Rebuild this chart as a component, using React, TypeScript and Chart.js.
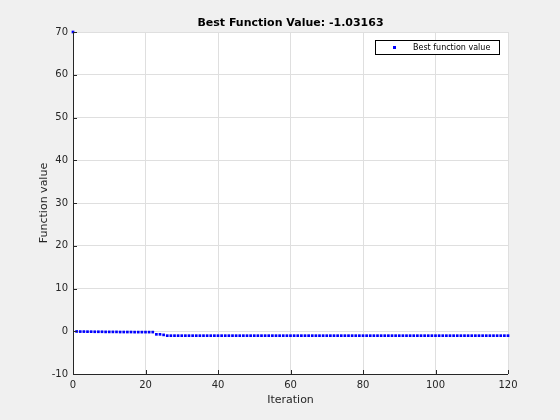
import React, { useEffect, useRef } from "react";
import { Chart, registerables } from "chart.js";

Chart.register(...registerables);

const titleText = "Best Function Value: -1.03163";
const xLabel = "Iteration";
const yLabel = "Function value";
const legendLabel = "Best function value";

const xTicks = [0, 20, 40, 60, 80, 100, 120];
const yTicks = [-10, 0, 10, 20, 30, 40, 50, 60, 70];

const iterations = [
  0, 1, 2, 3, 4, 5, 6, 7, 8, 9,
  10, 11, 12, 13, 14, 15, 16, 17, 18, 19,
  20, 21, 22, 23, 24, 25, 26, 27, 28, 29,
  30, 31, 32, 33, 34, 35, 36, 37, 38, 39,
  40, 41, 42, 43, 44, 45, 46, 47, 48, 49,
  50, 51, 52, 53, 54, 55, 56, 57, 58, 59,
  60, 61, 62, 63, 64, 65, 66, 67, 68, 69,
  70, 71, 72, 73, 74, 75, 76, 77, 78, 79,
  80, 81, 82, 83, 84, 85, 86, 87, 88, 89,
  90, 91, 92, 93, 94, 95, 96, 97, 98, 99,
  100, 101, 102, 103, 104, 105, 106, 107, 108, 109,
  110, 111, 112, 113, 114, 115, 116, 117, 118, 119,
  120,
];

const bestValues = [
  70, -0.05, -0.08, -0.08, -0.1, -0.1, -0.12, -0.12, -0.12, -0.15,
  -0.15, -0.15, -0.15, -0.18, -0.18, -0.18, -0.18, -0.2, -0.2, -0.2,
  -0.2, -0.2, -0.2, -0.72, -0.72, -0.85, -1.0316, -1.0316, -1.0316, -1.0316,
  -1.0316, -1.0316, -1.0316, -1.0316, -1.0316, -1.0316, -1.0316, -1.0316, -1.0316, -1.0316,
  -1.0316, -1.0316, -1.0316, -1.0316, -1.0316, -1.0316, -1.0316, -1.0316, -1.0316, -1.0316,
  -1.0316, -1.0316, -1.0316, -1.0316, -1.0316, -1.0316, -1.0316, -1.0316, -1.0316, -1.0316,
  -1.0316, -1.0316, -1.0316, -1.0316, -1.0316, -1.0316, -1.0316, -1.0316, -1.0316, -1.0316,
  -1.0316, -1.0316, -1.0316, -1.0316, -1.0316, -1.0316, -1.0316, -1.0316, -1.0316, -1.0316,
  -1.0316, -1.0316, -1.0316, -1.0316, -1.0316, -1.0316, -1.0316, -1.0316, -1.0316, -1.0316,
  -1.0316, -1.0316, -1.0316, -1.0316, -1.0316, -1.0316, -1.0316, -1.0316, -1.0316, -1.0316,
  -1.0316, -1.0316, -1.0316, -1.0316, -1.0316, -1.0316, -1.0316, -1.0316, -1.0316, -1.0316,
  -1.0316, -1.0316, -1.0316, -1.0316, -1.0316, -1.0316, -1.0316, -1.0316, -1.0316, -1.0316,
  -1.03163,
];

const FONT = "'DejaVu Sans', sans-serif";
const AXIS_COLOR = "#262626";

const matlabPlugin = {
  id: "matlabDecor",
  afterDraw(chart: any) {
    const { ctx, chartArea } = chart;
    const { left, right, top, bottom } = chartArea;
    const xs = chart.scales.x;
    const ys = chart.scales.y;
    ctx.save();
    ctx.strokeStyle = AXIS_COLOR;
    ctx.lineWidth = 1;
    ctx.beginPath();
    ctx.moveTo(left + 0.5, top);
    ctx.lineTo(left + 0.5, bottom + 0.5);
    ctx.lineTo(right, bottom + 0.5);
    ctx.stroke();
    ctx.beginPath();
    xTicks.forEach((t) => {
      const px = Math.round(xs.getPixelForValue(t)) + 0.5;
      ctx.moveTo(px, bottom);
      ctx.lineTo(px, bottom - 4);
    });
    yTicks.forEach((t) => {
      const py = Math.round(ys.getPixelForValue(t)) + 0.5;
      ctx.moveTo(left, py);
      ctx.lineTo(left + 4, py);
    });
    ctx.stroke();
    ctx.fillStyle = "#000000";
    ctx.font = `bold 11px ${FONT}`;
    ctx.textAlign = "center";
    ctx.textBaseline = "alphabetic";
    ctx.fillText(titleText, (left + right) / 2, 26);
    ctx.fillStyle = AXIS_COLOR;
    ctx.font = `11px ${FONT}`;
    ctx.fillText(xLabel, (left + right) / 2, 403);
    ctx.save();
    ctx.translate(47, (top + bottom) / 2);
    ctx.rotate(-Math.PI / 2);
    ctx.fillText(yLabel, 0, 0);
    ctx.restore();
    const lx = 375.5, ly = 40.5, lw = 124, lh = 14;
    ctx.fillStyle = "#ffffff";
    ctx.fillRect(lx, ly, lw, lh);
    ctx.strokeStyle = "#000000";
    ctx.strokeRect(lx, ly, lw, lh);
    ctx.fillStyle = "#0000ff";
    ctx.fillRect(393, 46, 3, 3);
    ctx.fillStyle = "#000000";
    ctx.font = `8px ${FONT}`;
    ctx.textAlign = "left";
    ctx.textBaseline = "middle";
    ctx.fillText(legendLabel, 413, 47.5);
    ctx.restore();
  },
};

export default function App() {
  const canvasRef = useRef<HTMLCanvasElement>(null);

  useEffect(() => {
    document.body.style.margin = "0";
    const canvas = canvasRef.current;
    if (!canvas) return;
    const chart = new Chart(canvas, {
      type: "scatter",
      data: {
        datasets: [
          {
            label: legendLabel,
            data: iterations.map((it, i) => ({ x: it, y: bestValues[i] })),
            backgroundColor: "#0000ff",
            borderColor: "#0000ff",
            pointStyle: "rect",
            pointRadius: 1.9,
            pointBorderWidth: 0,
            pointHoverRadius: 1.9,
            showLine: false,
            clip: false,
          } as any,
        ],
      },
      options: {
        animation: false,
        responsive: false,
        maintainAspectRatio: false,
        layout: { padding: { left: 0, top: 32, right: 52, bottom: 0 } },
        plugins: {
          legend: { display: false },
          title: { display: false },
          tooltip: { enabled: false },
        },
        scales: {
          x: {
            type: "linear",
            min: 0,
            max: 120,
            afterFit: (s: any) => {
              s.height = 46;
            },
            afterBuildTicks: (s: any) => {
              s.ticks = xTicks.map((v) => ({ value: v }));
            },
            border: { display: false },
            grid: { color: "#dfdfdf", drawTicks: false, lineWidth: 1 },
            ticks: {
              padding: 5,
              color: AXIS_COLOR,
              font: { family: FONT, size: 10 },
              maxRotation: 0,
            },
          },
          y: {
            type: "linear",
            min: -10,
            max: 70,
            afterFit: (s: any) => {
              s.width = 73;
            },
            afterBuildTicks: (s: any) => {
              s.ticks = yTicks.map((v) => ({ value: v }));
            },
            border: { display: false },
            grid: { color: "#dfdfdf", drawTicks: false, lineWidth: 1 },
            ticks: {
              padding: 5,
              color: AXIS_COLOR,
              font: { family: FONT, size: 10 },
            },
          },
        },
      },
      plugins: [matlabPlugin],
    });
    return () => chart.destroy();
  }, []);

  return (
    <div
      style={{
        position: "absolute",
        left: 0,
        top: 0,
        width: 560,
        height: 420,
        background: "#f0f0f0",
      }}
    >
      <div
        style={{
          position: "absolute",
          left: 73,
          top: 32,
          width: 435,
          height: 342,
          background: "#ffffff",
        }}
      />
      <canvas
        ref={canvasRef}
        width={560}
        height={420}
        style={{ position: "absolute", left: 0, top: 0, width: 560, height: 420 }}
      />
    </div>
  );
}
